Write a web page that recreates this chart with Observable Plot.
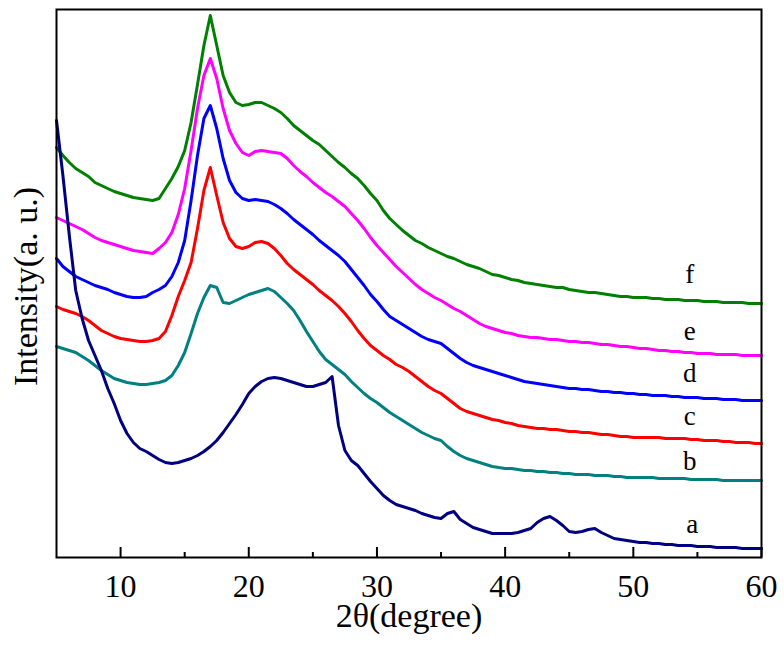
<!DOCTYPE html>
<html>
<head>
<meta charset="utf-8">
<script src="https://cdn.jsdelivr.net/npm/d3@7"></script>
<script src="https://cdn.jsdelivr.net/npm/@observablehq/plot@0.6"></script>
<style>
  html, body { margin: 0; padding: 0; background: white; }
</style>
</head>
<body>
<div id="chart"></div>
<script>
// 2θ grid (degrees)
const twoTheta = [
  5, 5.5, 6, 6.5, 7, 7.5, 8, 8.5, 9, 9.5,
  10, 10.5, 11, 11.5, 12, 12.5, 13, 13.5, 14, 14.5,
  15, 15.5, 16, 16.5, 17, 17.5, 18, 18.5, 19, 19.5,
  20, 20.5, 21, 21.5, 22, 22.5, 23, 23.5, 24, 24.5,
  25, 25.5, 26, 26.5, 27, 27.5, 28, 28.5, 29, 29.5,
  30, 30.5, 31, 31.5, 32, 32.5, 33, 33.5, 34, 34.5,
  35, 35.5, 36, 36.5, 37, 37.5, 38, 38.5, 39, 39.5,
  40, 40.5, 41, 41.5, 42, 42.5, 43, 43.5, 44, 44.5,
  45, 45.5, 46, 46.5, 47, 47.5, 48, 48.5, 49, 49.5,
  50, 50.5, 51, 51.5, 52, 52.5, 53, 53.5, 54, 54.5,
  55, 55.5, 56, 56.5, 57, 57.5, 58, 58.5, 59, 59.5,
  60
];

// Intensities (a.u., stacked offsets as drawn)
const seriesA = [
  437, 382, 322, 267, 239, 217, 202, 187, 169, 154,
  137, 124, 115, 109, 106, 102, 98, 95, 94, 95,
  97, 99, 102, 106, 111, 117, 125, 134, 143, 153,
  164, 171, 176, 179, 180, 179, 177, 175, 173, 171,
  171, 173, 175, 181, 132, 107, 97, 92, 84, 76,
  69, 62, 57, 53, 51, 49, 47, 44, 42, 40,
  39, 44, 46, 38, 34, 30, 28, 26, 24, 24,
  24, 24, 25, 27, 29, 35, 39, 41, 37, 32,
  26, 25, 26, 28, 29, 25, 22, 19, 18, 17,
  16, 15, 15, 14, 14, 13, 13, 12, 12, 12,
  11, 11, 11, 10, 10, 10, 10, 9, 9, 9,
  9
];
const seriesB = [
  211, 209, 207, 205, 201, 197, 192, 187, 183, 179,
  177, 175, 174, 173, 173, 174, 175, 177, 182, 192,
  205, 224, 244, 260, 272, 270, 255, 254, 257, 260,
  263, 265, 267, 269, 266, 260, 254, 247, 237, 226,
  216, 206, 198, 193, 188, 183, 176, 170, 164, 159,
  155, 150, 145, 141, 137, 133, 129, 125, 122, 119,
  117, 111, 106, 102, 99, 97, 95, 93, 91, 90,
  89, 89, 88, 87, 87, 86, 86, 85, 85, 84,
  84, 83, 83, 83, 82, 82, 82, 81, 81, 80,
  80, 80, 80, 80, 79, 79, 79, 79, 79, 78,
  78, 78, 78, 78, 77, 77, 77, 77, 77, 77,
  77
];
const seriesC = [
  251, 248, 246, 244, 241, 237, 232, 227, 224, 221,
  219, 218, 217, 216, 216, 217, 219, 226, 242, 261,
  277, 295, 329, 367, 390, 362, 335, 319, 311, 309,
  311, 315, 316, 314, 309, 302, 294, 288, 283, 278,
  273, 267, 262, 257, 251, 244, 236, 227, 219, 212,
  207, 202, 198, 193, 190, 186, 181, 176, 171, 167,
  164, 159, 154, 149, 146, 144, 142, 140, 138, 137,
  135, 134, 132, 131, 130, 129, 129, 128, 128, 127,
  126, 126, 125, 125, 124, 123, 123, 122, 121, 121,
  120, 120, 120, 120, 120, 119, 119, 119, 119, 118,
  118, 117, 117, 117, 116, 116, 115, 115, 115, 114,
  114
];
const seriesD = [
  299, 291, 286, 281, 278, 275, 272, 270, 268, 265,
  263, 261, 260, 260, 261, 265, 268, 272, 281, 295,
  317, 357, 402, 439, 452, 429, 399, 377, 365, 359,
  357, 358, 357, 356, 353, 349, 344, 338, 333, 328,
  323, 317, 312, 307, 302, 296, 288, 280, 272, 263,
  256, 248, 241, 237, 233, 229, 225, 221, 218, 216,
  214, 209, 204, 199, 195, 192, 190, 188, 186, 184,
  182, 180, 178, 176, 175, 174, 173, 172, 171, 170,
  169, 169, 168, 168, 167, 166, 166, 165, 165, 164,
  164, 163, 163, 162, 162, 162, 161, 161, 160, 160,
  160, 159, 159, 159, 158, 158, 158, 157, 157, 157,
  157
];
const seriesE = [
  340, 337, 334, 331, 328, 324, 320, 317, 315, 313,
  311, 309, 307, 306, 305, 304, 309, 315, 325, 343,
  369, 407, 449, 482, 499, 479, 449, 427, 414, 405,
  402, 406, 407, 406, 405, 404, 399, 392, 386, 381,
  375, 370, 365, 361, 356, 351, 344, 337, 329, 320,
  312, 305, 298, 291, 285, 279, 273, 268, 264, 260,
  257, 253, 249, 246, 242, 238, 234, 231, 229, 227,
  225, 224, 222, 221, 220, 220, 219, 218, 218, 217,
  216, 216, 215, 215, 214, 213, 213, 212, 211, 211,
  210, 209, 209, 208, 207, 207, 206, 206, 205, 205,
  204, 204, 204, 203, 203, 203, 203, 202, 202, 202,
  202
];
const seriesF = [
  410, 402, 395, 389, 385, 381, 375, 372, 369, 366,
  364, 362, 360, 359, 358, 357, 359, 369, 379, 391,
  407, 435, 473, 512, 542, 512, 482, 465, 455, 452,
  453, 455, 455, 452, 449, 445, 439, 432, 427, 422,
  417, 413, 407, 401, 395, 390, 384, 379, 372, 364,
  357, 347, 339, 333, 327, 322, 317, 314, 310, 307,
  304, 301, 299, 296, 293, 291, 289, 286, 283, 282,
  280, 278, 277, 275, 274, 273, 272, 271, 270, 270,
  268, 267, 266, 265, 265, 264, 263, 262, 261, 261,
  260, 260, 260, 259, 259, 258, 258, 258, 257, 257,
  257, 256, 256, 256, 255, 255, 255, 255, 254, 254,
  254
];

const seriesNames = ["a", "b", "c", "d", "e", "f"];
const seriesColors = ["#000080", "#008080", "#ff0000", "#0000ff", "#ff00ff", "#008000"];
const labelX = [54.6, 54.4, 54.4, 54.4, 54.4, 54.4];
const labelY = [33, 96, 141, 184, 226, 283];

const majorTicks = [10, 20, 30, 40, 50, 60];
const minorTicks = [15, 25, 35, 45, 55];
const xTitle = "2θ(degree)";
const yTitle = "Intensity(a. u.)";

const allSeries = [seriesA, seriesB, seriesC, seriesD, seriesE, seriesF];
const rows = allSeries.map((vals, k) =>
  twoTheta.map((t, i) => ({theta: t, intensity: vals[i], name: seriesNames[k]}))
);
const labels = seriesNames.map((n, k) => ({name: n, x: labelX[k], y: labelY[k]}));

// draw f first, a last
const lineMarks = [5, 4, 3, 2, 1, 0].map(k =>
  Plot.line(rows[k], {x: "theta", y: "intensity", stroke: seriesColors[k], strokeWidth: 3, strokeLinejoin: "round"})
);

const chart = Plot.plot({
  width: 784,
  height: 648,
  marginLeft: 56,
  marginRight: 23,
  marginTop: 9,
  marginBottom: 91,
  x: {domain: [5, 60], axis: null},
  y: {domain: [0, 548], axis: null},
  style: {fontFamily: "'Liberation Serif', 'Times New Roman', serif", background: "white", color: "black"},
  marks: [
    ...lineMarks,
    Plot.frame({stroke: "black", strokeWidth: 2}),
    Plot.tickX(majorTicks, {x: d => d, insetTop: 538, stroke: "black", strokeWidth: 2}),
    Plot.tickX(minorTicks, {x: d => d, insetTop: 543, stroke: "black", strokeWidth: 2}),
    Plot.axisX({ticks: majorTicks, tickSize: 0, tickPadding: 17, fontSize: 32, label: null, tickFormat: d => String(d)}),
    Plot.text(labels, {x: "x", y: "y", text: "name", fontSize: 27, fill: "black"}),
    Plot.text([xTitle], {frameAnchor: "bottom", lineAnchor: "middle", textAnchor: "middle", dy: 59, text: d => d, fontSize: 34, fill: "black"}),
    Plot.text([yTitle], {frameAnchor: "left", lineAnchor: "middle", textAnchor: "middle", rotate: -90, dx: -30, dy: 3, text: d => d, fontSize: 34, fill: "black"})
  ]
});
document.getElementById("chart").appendChild(chart);
</script>
</body>
</html>
